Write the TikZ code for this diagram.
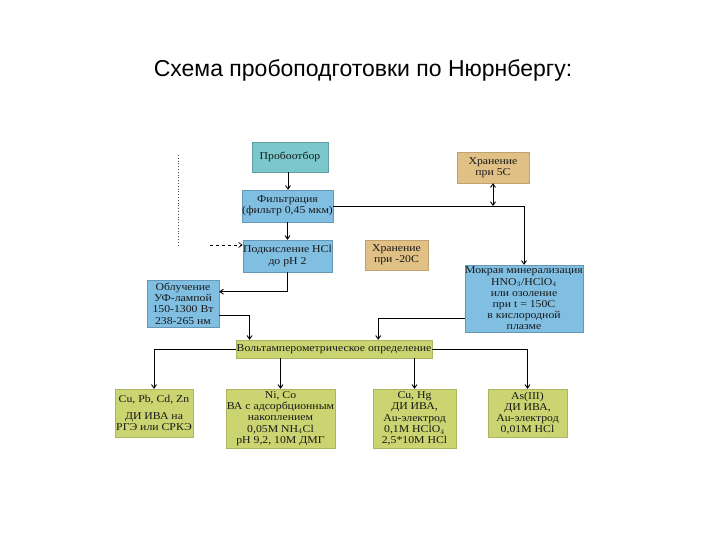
\documentclass[tikz,border=0pt]{standalone}
\usepackage{fontspec}
\setmainfont[FakeStretch=1.12]{Liberation Serif}
\newfontfamily\titlefont{Liberation Sans}
\usetikzlibrary{arrows.meta,calc}
\definecolor{cteal}{RGB}{122,200,204}
\definecolor{cblue}{RGB}{128,190,226}
\definecolor{ctan}{RGB}{224,192,132}
\definecolor{cgreen}{RGB}{202,212,112}
\tikzset{
  boxbase/.style={rectangle,inner sep=0.3pt,align=center,font=\fontsize{10.5}{11.2}\selectfont,text=black!90},
  tealbox/.style={boxbase,fill=cteal,draw=cteal!80!black},
  bluebox/.style={boxbase,fill=cblue,draw=cblue!80!black},
  tanbox/.style={boxbase,fill=ctan,draw=ctan!85!black},
  greenbox/.style={boxbase,fill=cgreen,draw=cgreen!85!black},
  conn/.style={line width=0.9pt,black,-{Straight Barb[length=3.5pt,width=5pt]}},
  plainline/.style={line width=0.9pt,black}
}
\begin{document}
\begin{tikzpicture}[x=1pt,y=-1pt]
\useasboundingbox (0,0) rectangle (720,540);
\node[font=\titlefont\fontsize{23}{25}\selectfont] (title) at (363,70) {Схема пробоподготовки по Нюрнбергу:};

\node[tealbox,minimum width=76pt,minimum height=30pt] (p) at (290,157) {Пробоотбор};
\node[bluebox,minimum width=91pt,minimum height=32pt] (f) at (287.5,206) {Фильтрация\\(фильтр 0,45 мкм)};
\node[bluebox,minimum width=89pt,minimum height=32pt] (pk) at (287.5,256) {Подкисление HCl\\до pH 2};
\node[tanbox,minimum width=72pt,minimum height=31pt] (h5) at (493,167.5) {Хранение\\при 5С};
\node[tanbox,minimum width=63pt,minimum height=30pt] (h20) at (396.5,255) {Хранение\\при -20С};
\node[bluebox,minimum width=118pt,minimum height=67pt] (m) at (524,298.5) {Мокрая минерализация\\HNO$_3$/HClO$_4$\\или озоление\\при t = 150С\\в кислородной\\плазме};
\node[bluebox,minimum width=72pt,minimum height=47pt] (o) at (183,303.5) {Облучение\\УФ-лампой\\150-1300 Вт\\238-265 нм};
\node[greenbox,minimum width=196pt,minimum height=18pt] (v) at (334,349) {Вольтамперометрическое определение};
\node[greenbox,minimum width=78pt,minimum height=48pt] (b1) at (154,413) {Cu, Pb, Cd, Zn\\[5pt]ДИ ИВА на\\РГЭ или СРКЭ};
\node[greenbox,minimum width=109pt,minimum height=59pt] (b2) at (280.5,418.5) {Ni, Co\\ВА с адсорбционным\\накоплением\\0,05M NH$_4$Cl\\pH 9,2, 10M ДМГ};
\node[greenbox,minimum width=83pt,minimum height=59pt] (b3) at (414.5,418.5) {Cu, Hg\\ДИ ИВА,\\Au-электрод\\0,1M HClO$_4$\\2,5*10M HCl};
\node[greenbox,minimum width=79pt,minimum height=48pt] (b4) at (527.5,413) {As(III)\\ДИ ИВА,\\Au-электрод\\0,01M HCl};

% connectors
\coordinate (ps) at ($(p.south)+(-2,0)$);
\draw[conn] (ps) -- (ps |- f.north);
\draw[conn] (f.south) -- (pk.north);
\draw[conn] (f.east) -| (m.north);
\coordinate (j) at (h5.south |- f.east);
\draw[line width=0.9pt,{Straight Barb[length=3.5pt,width=5pt]}-{Straight Barb[length=3.5pt,width=5pt]}] (h5.south) -- (j);
\coordinate (d1) at (210,245);
\draw[line width=0.7pt,dashed,-{Straight Barb[length=3.5pt,width=5pt]}] (d1) -- (d1 -| pk.west);
\coordinate (t1) at (178,155);
\coordinate (t2) at (178,245);
\draw[line width=0.8pt,black!70,dotted] (t1) -- (t2);
\draw[conn] (pk.south) |- ($(o.north east)!0.25!(o.south east)$);
\draw[conn] ($(o.north east)!0.75!(o.south east)$) -| ($(v.north west)!0.07!(v.north east)$);
\draw[conn] ($(m.north west)!0.8!(m.south west)$) -| ($(v.north west)!0.725!(v.north east)$);
\draw[conn] (v.west) -| (b1.north);
\draw[conn] (v.east) -| (b4.north);
\draw[conn] (v.south -| b2.north) -- (b2.north);
\draw[conn] (v.south -| b3.north) -- (b3.north);
\end{tikzpicture}
\end{document}
